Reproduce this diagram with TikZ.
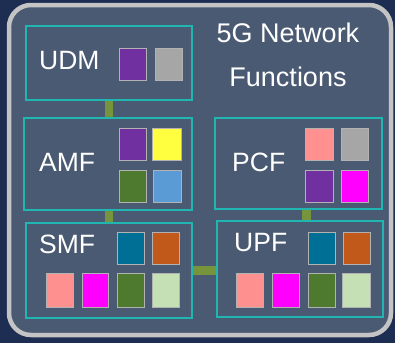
\documentclass[tikz,border=0pt]{standalone}
\usepackage{fontspec}
\setmainfont{Liberation Sans}
\definecolor{navy}{HTML}{1E2D52}
\definecolor{slate}{HTML}{4B5A73}
\definecolor{rim}{HTML}{C4C4C4}
\definecolor{teal5}{HTML}{1FB5B0}
\definecolor{olive5}{HTML}{77933C}
\definecolor{cPurple}{HTML}{7030A0}
\definecolor{cGray}{HTML}{A6A6A6}
\definecolor{cYellow}{HTML}{FFFF40}
\definecolor{cGreen}{HTML}{4E7A30}
\definecolor{cBlue}{HTML}{5B9BD5}
\definecolor{cPink}{HTML}{FF9090}
\definecolor{cMagenta}{HTML}{FF00FF}
\definecolor{cDeep}{HTML}{006F96}
\definecolor{cOrange}{HTML}{C0591A}
\definecolor{cLight}{HTML}{C5E0B4}
\tikzset{
  nfbox/.style={draw=teal5, line width=2pt, inner sep=0pt, anchor=north west},
  nflabel/.style={text=white, font=\fontsize{26.5}{30}\selectfont, inner sep=0pt, anchor=west},
  title/.style={text=white, font=\fontsize{27}{30}\selectfont, inner sep=0pt},
  sq/.style={inner sep=0pt, minimum width=27pt, minimum height=32pt, anchor=north west, draw=black!30, line width=0.4pt},
  conn/.style={draw=olive5, line width=8.5pt}
}
\begin{document}
\begin{tikzpicture}[x=1pt,y=-1pt]
\fill[navy] (0,0) rectangle (395,343);
\useasboundingbox (0,0) rectangle (395,343);
\draw[rim, line width=4.5pt, fill=slate, rounded corners=22pt] (9,5) rectangle (391,335);
% boxes
\node[nfbox, minimum width=166pt, minimum height=74pt] (udm) at (25,25) {};
\node[nfbox, minimum width=168pt, minimum height=92pt] (amf) at (23,117) {};
\node[nfbox, minimum width=167pt, minimum height=91pt] (pcf) at (214,117) {};
\node[nfbox, minimum width=166pt, minimum height=95pt] (smf) at (25,222) {};
\node[nfbox, minimum width=166pt, minimum height=96pt] (upf) at (216,220) {};
% connectors
\draw[conn] (udm.south) -- (udm.south |- amf.north);
\draw[conn] (smf.north |- amf.south) -- (smf.north);
\draw[conn] ([xshift=8pt]pcf.south) -- ([xshift=8pt]pcf.south |- upf.north);
\draw[conn] (smf.east) -- (smf.east -| upf.west);
% labels
\node[nflabel] (tudm) at (39,61) {UDM};
\node[nflabel] (tamf) at (39,162) {AMF};
\node[nflabel] (tpcf) at (232,162) {PCF};
\node[nflabel] (tsmf) at (39,244) {SMF};
\node[nflabel] (tupf) at (234,243) {UPF};
\node[title] (t1) at (288,33) {5G Network};
\node[title] (t2) at (288,77) {Functions};
% UDM squares
\node[sq, fill=cPurple] (u1) at (119,48) {};
\node[sq, fill=cGray] (u2) at (155,48) {};
% AMF squares
\node[sq, fill=cPurple] (a1) at (119,128) {};
\node[sq, fill=cYellow, minimum width=29pt] (a2) at (152,128) {};
\node[sq, fill=cGreen] (a3) at (119,170) {};
\node[sq, fill=cBlue, minimum width=28pt] (a4) at (153,170) {};
% PCF squares
\node[sq, fill=cPink, minimum width=28pt] (p1) at (305,128) {};
\node[sq, fill=cGray] (p2) at (341,128) {};
\node[sq, fill=cPurple, minimum width=28pt] (p3) at (305,170) {};
\node[sq, fill=cMagenta] (p4) at (341,170) {};
% SMF squares
\node[sq, fill=cDeep] (s1) at (117,232) {};
\node[sq, fill=cOrange] (s2) at (152,232) {};
\node[sq, fill=cPink, minimum height=34pt] (s3) at (46,273) {};
\node[sq, fill=cMagenta, minimum width=26pt, minimum height=34pt] (s4) at (82,273) {};
\node[sq, fill=cGreen, minimum height=34pt] (s5) at (117,273) {};
\node[sq, fill=cLight, minimum height=34pt] (s6) at (152,273) {};
% UPF squares
\node[sq, fill=cDeep] (v1) at (308,232) {};
\node[sq, fill=cOrange] (v2) at (343,232) {};
\node[sq, fill=cPink, minimum height=34pt] (v3) at (236,273) {};
\node[sq, fill=cMagenta, minimum height=34pt] (v4) at (272,273) {};
\node[sq, fill=cGreen, minimum height=34pt] (v5) at (308,273) {};
\node[sq, fill=cLight, minimum width=28pt, minimum height=34pt] (v6) at (342,273) {};
\end{tikzpicture}
\end{document}
